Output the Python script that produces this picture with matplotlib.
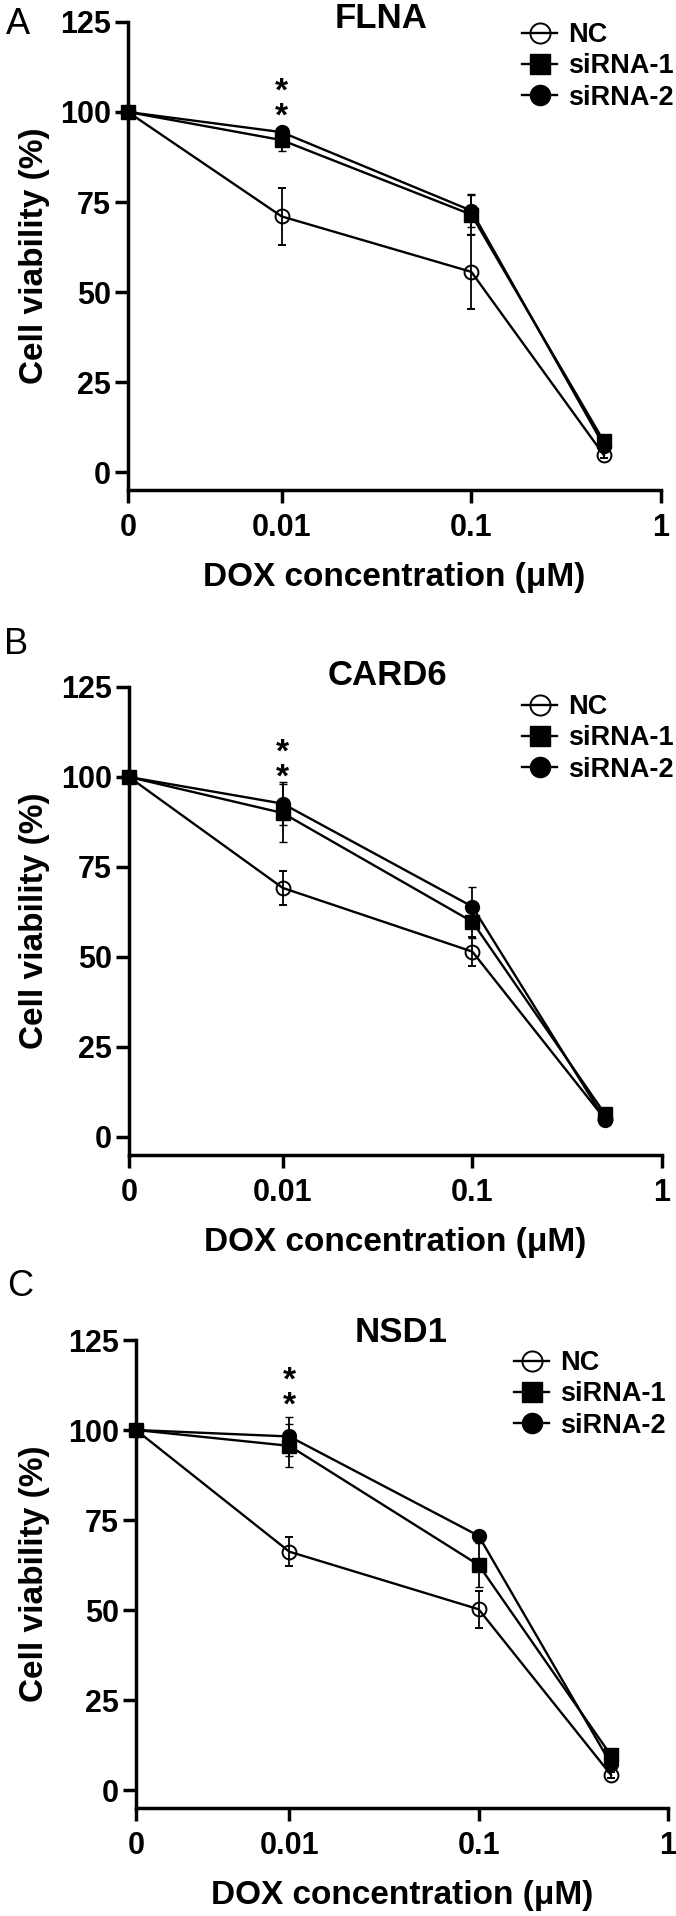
import numpy as np
import matplotlib
matplotlib.use("Agg")
import matplotlib.pyplot as plt
from matplotlib.lines import Line2D

plt.rcParams['font.family'] = ['Liberation Sans', 'DejaVu Sans']

W, H = 676, 1916

# data
doses = [0, 0.01, 0.1, 0.5]
xtick_vals = [0, 0.01, 0.1, 1]
xtick_labels = ['0', '0.01', '0.1', '1']
ytick_vals = [0, 25, 50, 75, 100, 125]
series_names = ['NC', 'siRNA-1', 'siRNA-2']
genes = ['FLNA', 'CARD6', 'NSD1']
panel_letters = ['A', 'B', 'C']

flna_nc = [100, 71, 55.6, 4.7]
flna_nc_err = [0, 7.9, 10.3, 0.8]
flna_si1 = [100, 92.2, 71.5, 8.5]
flna_si1_err = [0, 3.0, 5.5, 1.0]
flna_si2 = [100, 94.4, 72.6, 7.3]
flna_si2_err = [0, 1.2, 4.5, 1.0]
flna_star = 101.5   # centre of the lower asterisk

card6_nc = [100, 69.2, 51.5, 5.0]
card6_nc_err = [0, 4.8, 4.0, 0.8]
card6_si1 = [100, 90.0, 59.8, 6.4]
card6_si1_err = [0, 8.0, 4.5, 0.8]
card6_si2 = [100, 92.6, 64.0, 4.8]
card6_si2_err = [0, 6.0, 5.5, 0.8]
card6_star = 102.8

nsd1_nc = [100, 66.2, 50.2, 4.2]
nsd1_nc_err = [0, 4.0, 5.2, 0.8]
nsd1_si1 = [100, 95.6, 62.5, 9.6]
nsd1_si1_err = [0, 6.0, 6.0, 1.0]
nsd1_si2 = [100, 98.2, 70.6, 7.2]
nsd1_si2_err = [0, 5.5, 1.0, 1.0]
nsd1_star = 109.6

ZERO_POS = -2.81  # where dose 0 sits on the log axis


def xpos(d):
    d = np.asarray(d, dtype=float)
    return np.where(d > 0, np.log10(np.where(d > 0, d, 1)), ZERO_POS)


def px_rect(l, t, r, b):
    return [l / W, 1 - b / H, (r - l) / W, (b - t) / H]


def ftext(x, y, s, **kw):
    fig.text(x / W, 1 - y / H, s, **kw)


styles = [
    dict(marker='o', mfc='none', mec='black', ms=10, mew=1.4),
    dict(marker='s', mfc='black', mec='black', ms=9.5, mew=1),
    dict(marker='o', mfc='black', mec='black', ms=10, mew=1),
]

panels = [
    dict(rect=(128, 22, 661, 490), letter=(18, 24), title=(381, 19),
         leg=(522, 22),
         vals=[flna_nc, flna_si1, flna_si2],
         errs=[flna_nc_err, flna_si1_err, flna_si2_err], star=flna_star),
    dict(rect=(129, 687, 662, 1155), letter=(16, 645), title=(387, 675),
         leg=(522, 694),
         vals=[card6_nc, card6_si1, card6_si2],
         errs=[card6_nc_err, card6_si1_err, card6_si2_err], star=card6_star),
    dict(rect=(136, 1340, 668, 1808), letter=(20, 1287), title=(401, 1333),
         leg=(514, 1350),
         vals=[nsd1_nc, nsd1_si1, nsd1_si2],
         errs=[nsd1_nc_err, nsd1_si1_err, nsd1_si2_err], star=nsd1_star),
]

fig = plt.figure(figsize=(W / 100, H / 100), dpi=100)

for i, p in enumerate(panels):
    ax = fig.add_axes(px_rect(*p['rect']))
    x = xpos(doses)
    for k in range(3):
        ax.errorbar(x, p['vals'][k], yerr=p['errs'][k], color='black',
                    lw=1.7, elinewidth=1.3, capsize=3, capthick=1.3,
                    clip_on=False, zorder=3 + k, **styles[k])
    # two stacked asterisks above 0.01 (one text, bottom glyph on the value)
    ax.annotate('*\n*', xy=(np.log10(0.01), p['star']), xytext=(0, -19),
                textcoords='offset points', ha='center', va='bottom',
                fontsize=24, fontweight='bold', linespacing=0.75)

    ax.set_xlim(ZERO_POS, 0)
    ax.set_ylim(-5, 125)
    ax.set_xticks(xpos(xtick_vals))
    ax.set_xticklabels(xtick_labels)
    ax.set_yticks(ytick_vals)
    for sp in ['top', 'right']:
        ax.spines[sp].set_visible(False)
    for sp in ['left', 'bottom']:
        ax.spines[sp].set_linewidth(2.5)
    ax.tick_params(axis='both', width=2.5, length=9.5, labelsize=22)
    ax.tick_params(axis='x', pad=7)
    ax.tick_params(axis='y', pad=3)
    for lab in ax.get_xticklabels() + ax.get_yticklabels():
        lab.set_fontweight('bold')
    ax.set_xlabel('DOX concentration (μM)', fontsize=24, fontweight='bold',
                  labelpad=14)
    ax.set_ylabel('Cell viability (%)', fontsize=24, fontweight='bold')
    ylab_y = 1 - (p['rect'][1] + p['rect'][3]) / 2 / H
    ax.yaxis.set_label_coords(50 / W, ylab_y, transform=fig.transFigure)

    ftext(*p['letter'], panel_letters[i], fontsize=26, ha='center', va='center')
    ftext(*p['title'], genes[i], fontsize=25, fontweight='bold',
          ha='center', va='center')

    handles = [Line2D([0], [0], color='black', lw=1.7, **styles[k])
               for k in range(3)]
    ax.legend(handles, series_names, loc='upper left',
              bbox_to_anchor=(p['leg'][0] / W, 1 - p['leg'][1] / H),
              bbox_transform=fig.transFigure, frameon=False,
              prop=dict(weight='bold', size=19.5), markerscale=1.45,
              handlelength=1.3, handletextpad=0.4, labelspacing=0.2,
              borderpad=0, borderaxespad=0)

fig.savefig('out.png', dpi=100)
